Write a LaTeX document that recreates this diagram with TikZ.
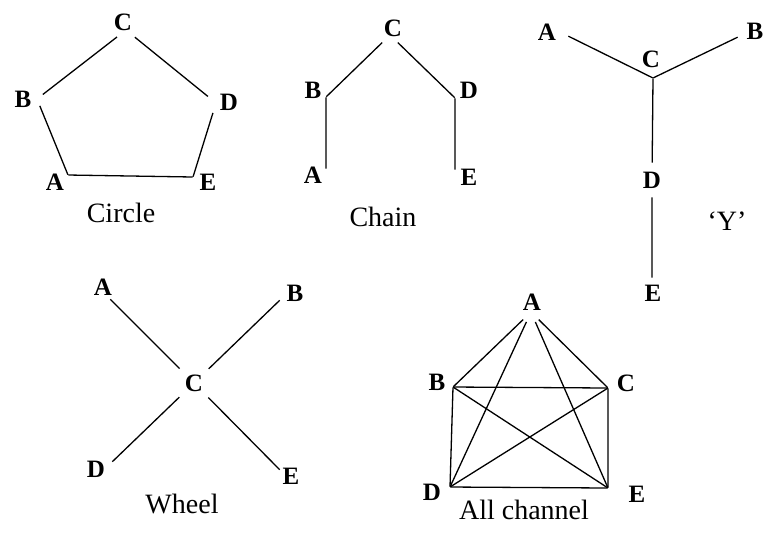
\documentclass[tikz,border=0pt]{standalone}
\usepackage{fontspec}
\setmainfont{Liberation Serif}

\begin{document}
\begin{tikzpicture}[x=0.5pt,y=-0.5pt,
  lbl/.style={font=\bfseries\fontsize{12.5}{13}\selectfont,inner sep=0pt},
  title/.style={font=\fontsize{14}{16}\selectfont,inner sep=0pt},
  vx/.style={circle,inner sep=0pt,minimum size=#1},
  vx/.default=0pt,
  wire/.style={line width=0.65pt}]

% Canvas: 764 x 532 px, 1 px = 0.5pt, y grows downwards
\useasboundingbox (0,0) rectangle (764,532);

% ── Circle ───────────────────────────────────────────────────────────────────
\node[vx=11pt] (cC) at (126,30)  {};
\node[vx=7pt]  (cB) at (37,99)   {};
\node[vx=10pt] (cD) at (216,103) {};
\node[vx]      (cA) at (68,175)  {};
\node[vx]      (cE) at (193,177) {};
\draw[wire] (cC) -- (cB) -- (cA) -- (cE) -- (cD) -- (cC);

\foreach \n/\x/\y in {C/123/22, B/23/99, D/229/102, A/55/182, E/208/182}
  \node[lbl] (cl\n) at (\x,\y) {\n};
\node[title] (circ) at (121,213) {Circle};

% ── Chain ────────────────────────────────────────────────────────────────────
\node[vx=10.5pt] (hC) at (390,35)  {};
\node[vx]        (hB) at (326,97)  {};
\node[vx]        (hD) at (455,98)  {};
\node[vx]        (hA) at (326,169) {};
\node[vx]        (hE) at (455,170) {};
\draw[wire] (hA) -- (hB) -- (hC) -- (hD) -- (hE);

\foreach \n/\x/\y in {C/393/28, B/313/90, D/469/90, A/313/175, E/469/177}
  \node[lbl] (hl\n) at (\x,\y) {\n};
\node[title] (chain) at (383,217) {Chain};

% ── 'Y' ──────────────────────────────────────────────────────────────────────
\node[vx]          (yA) at (568,36)  {};
\node[vx]          (yC) at (653,78)  {};
\node[vx]          (yB) at (738,37)  {};
\node[lbl,vx=17pt] (yD) at (652,180) {D};
\node[vx]          (yE) at (652,278) {};
\draw[wire] (yA) -- (yC) -- (yB);
\draw[wire] (yC) -- (yD) -- (yE);

\foreach \n/\x/\y in {A/547/32, B/755/31, C/651/59, E/653/293}
  \node[lbl] (yl\n) at (\x,\y) {\n};
\node[title] (ytitle) at (727,221) {`Y'};

% ── Wheel ────────────────────────────────────────────────────────────────────
\node[lbl,vx=20pt] (wC) at (194,383) {C};
\node[vx] (wA) at (110,299) {};
\node[vx] (wB) at (280,300) {};
\node[vx] (wD) at (112,462) {};
\node[vx] (wE) at (280,470) {};
\draw[wire] (wA) -- (wC) -- (wE);
\draw[wire] (wB) -- (wC) -- (wD);

\foreach \n/\x/\y in {A/103/287, B/295/293, D/96/469, E/291/476}
  \node[lbl] (wl\n) at (\x,\y) {\n};
\node[title] (wheel) at (182,504) {Wheel};

% ── All channel ──────────────────────────────────────────────────────────────
\node[vx=10.5pt] (aA) at (531,312) {};
\node[vx]        (aB) at (453,387) {};
\node[vx]        (aC) at (608,388) {};
\node[vx]        (aD) at (450,487) {};
\node[vx]        (aE) at (608,488) {};
\draw[wire] (aB) -- (aC) -- (aE) -- (aD) -- (aB);
\foreach \a/\b in {aA/aB, aA/aC, aA/aD, aA/aE, aB/aE, aC/aD}
  \draw[wire] (\a) -- (\b);

\foreach \n/\x/\y in {A/532/302, B/437/382, C/626/383, D/432/492, E/637/494}
  \node[lbl] (al\n) at (\x,\y) {\n};
\node[title] (allch) at (524,510) {All channel};

\end{tikzpicture}
\end{document}
